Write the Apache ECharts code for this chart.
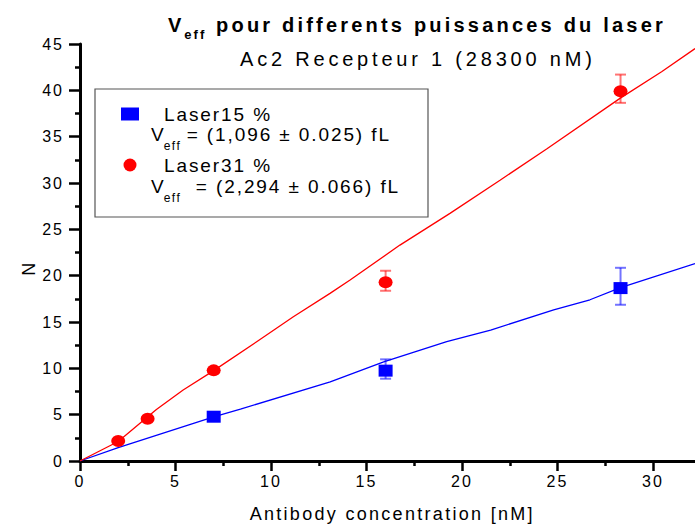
<!DOCTYPE html>
<html>
<head>
<meta charset="utf-8">
<script src="https://cdn.jsdelivr.net/npm/echarts@6/dist/echarts.min.js"></script>
<style>
  html, body { margin: 0; padding: 0; background: #fff; }
  #chart { width: 695px; height: 525px; }
</style>
</head>
<body>
<div id="chart"></div>
<script>
// ---- data ----
const seriesNames = ['Laser15 %', 'Laser31 %'];

const blueX = [7, 16, 28.3];
const blueY = [4.78, 9.75, 18.66];
const blueErrX = [16, 28.3];
const blueErrLow = [8.88, 16.86];
const blueErrHigh = [10.97, 20.85];

const redX = [2, 3.54, 7, 16, 28.3];
const redY = [2.16, 4.56, 9.78, 19.28, 39.9];
const redErrX = [16, 28.3];
const redErrLow = [18.37, 38.65];
const redErrHigh = [20.53, 41.7];

const blueFitX = [0, 2, 7, 8.4, 13.1, 15.9, 19.2, 21.5, 24.8, 26.7, 28.3, 32.2];
const blueFitY = [0, 1.45, 4.75, 5.6, 8.55, 10.7, 12.87, 14.13, 16.3, 17.4, 18.7, 21.3];

const redFitX = [0, 2, 4.0, 5.4, 7, 9.25, 11.17, 13.09, 14.14, 16.75, 19.37, 21.99, 24.43, 28.27, 30.45, 32.2];
const redFitY = [0, 2.1, 5.55, 7.66, 9.75, 12.87, 15.57, 18.09, 19.53, 23.3, 26.72, 30.3, 33.66, 39.13, 42.0, 44.5];

const xAxisTitle = 'Antibody concentration [nM]';
const yAxisTitle = 'N';
const legendFit1 = ['= (1,096 ± 0.025) fL'];
const legendFit2 = [' = (2,294 ± 0.066) fL'];

// ---- chart ----
const FONT = 'Liberation Sans';
const BLUE = '#0000ff';
const RED = '#ff0000';
const ellipse = 'path://M0,5A5,5,0,1,1,10,5A5,5,0,1,1,0,5Z';

function zip(a, b) { return a.map((v, i) => [v, b[i]]); }
function zip3(a, b, c) { return a.map((v, i) => [v, b[i], c[i]]); }

function errRender(color) {
  return function (params, api) {
    const x = api.value(0);
    const lo = api.coord([x, api.value(1)]);
    const hi = api.coord([x, api.value(2)]);
    const hw = 5.5;
    const st = { stroke: color, lineWidth: 2 };
    return {
      type: 'group',
      children: [
        { type: 'line', shape: { x1: lo[0], y1: lo[1], x2: hi[0], y2: hi[1] }, style: st },
        { type: 'line', shape: { x1: hi[0] - hw, y1: hi[1], x2: hi[0] + hw, y2: hi[1] }, style: st },
        { type: 'line', shape: { x1: lo[0] - hw, y1: lo[1], x2: lo[0] + hw, y2: lo[1] }, style: st }
      ]
    };
  };
}

function fitRich(subWidth) {
  return {
    v: { fontFamily: FONT, fontSize: 19, fill: '#000', lineHeight: 35 },
    s: { fontFamily: FONT, fontSize: 12, fill: '#000', lineHeight: 12, verticalAlign: 'bottom', width: subWidth },
    m: { fontFamily: FONT, fontSize: 19, fill: '#000', lineHeight: 35 }
  };
}

const chart = echarts.init(document.getElementById('chart'), null, { renderer: 'svg' });

const axisCommon = {
  type: 'value',
  axisLine: { show: true, onZero: false, lineStyle: { color: '#000', width: 3 } },
  axisTick: { show: true, inside: false, lineStyle: { color: '#000', width: 2.5 } },
  minorTick: { show: true, splitNumber: 2, length: 5, lineStyle: { color: '#000', width: 2.5 } },
  splitLine: { show: false },
  minorSplitLine: { show: false },
  axisLabel: { color: '#000', fontFamily: FONT, fontSize: 16, hideOverlap: false },
  nameMoveOverlap: false,
  nameTextStyle: { color: '#000', fontFamily: FONT, fontSize: 18 }
};

const option = {
  animation: false,
  backgroundColor: '#fff',
  textStyle: { fontFamily: FONT },
  title: [
    {
      text: '{v|V}{s|eff}{m| pour differents puissances du laser}',
      left: 168, top: 8, padding: 0,
      textStyle: {
        rich: {
          v: { fontFamily: FONT, fontSize: 20, fontWeight: 'bold', color: '#000', lineHeight: 33 },
          s: { fontFamily: FONT, fontSize: 13, fontWeight: 'bold', color: '#000', lineHeight: 13,
               verticalAlign: 'bottom', padding: [0, 0, 0, 3], width: 23 },
          m: { fontFamily: FONT, fontSize: 20, fontWeight: 'bold', color: '#000', lineHeight: 33 }
        }
      }
    },
    {
      text: 'Ac2 Recepteur 1 (28300 nM)',
      left: 240, top: 48.7, padding: 0,
      textStyle: { fontFamily: FONT, fontSize: 20, fontWeight: 'normal', color: '#000', lineHeight: 20 }
    }
  ],
  grid: { left: 80, top: 44, width: 668.5, height: 417, containLabel: false, outerBoundsMode: 'none' },
  xAxis: Object.assign({}, axisCommon, {
    min: 0, max: 35, interval: 5,
    name: xAxisTitle, nameLocation: 'middle', nameGap: 44,
    nameTextStyle: Object.assign({}, axisCommon.nameTextStyle, { padding: [0, 44, 0, 0] }),
    axisTick: Object.assign({}, axisCommon.axisTick, { length: 10 }),
    axisLabel: Object.assign({}, axisCommon.axisLabel, { margin: 12, showMaxLabel: false })
  }),
  yAxis: Object.assign({}, axisCommon, {
    min: 0, max: 45, interval: 5,
    name: yAxisTitle, nameLocation: 'middle', nameGap: 42, nameRotate: 90,
    nameTextStyle: Object.assign({}, axisCommon.nameTextStyle, { padding: [0, 31, 0, 0] }),
    axisTick: Object.assign({}, axisCommon.axisTick, { length: 11 }),
    axisLabel: Object.assign({}, axisCommon.axisLabel, { margin: 16 })
  }),
  legend: {
    orient: 'vertical', left: 121, top: 104.5, padding: 0,
    itemGap: 32, itemWidth: 18, itemHeight: 13, selectedMode: false,
    data: [{ name: seriesNames[0], icon: 'rect' }, { name: seriesNames[1], icon: ellipse }],
    textStyle: { fontFamily: FONT, fontSize: 19, color: '#000', padding: [0, 0, 0, 20] }
  },
  graphic: [
    { type: 'rect', z: 1, shape: { x: 95, y: 89, width: 333, height: 128 },
      style: { fill: 'none', stroke: '#555', lineWidth: 1.2 } },
    { type: 'text', z: 5, x: 151, y: 117,
      style: { text: '{v|V}{s|eff}{m|' + legendFit1[0] + '}', rich: fitRich(23) } },
    { type: 'text', z: 5, x: 151, y: 169.3,
      style: { text: '{v|V}{s|eff}{m|' + legendFit2[0] + '}', rich: fitRich(25) } }
  ],
  series: [
    { name: 'fit15', type: 'line', data: zip(blueFitX, blueFitY), showSymbol: false, symbol: 'none',
      lineStyle: { color: BLUE, width: 1.3 }, itemStyle: { color: BLUE }, z: 2, silent: true },
    { name: 'fit31', type: 'line', data: zip(redFitX, redFitY), showSymbol: false, symbol: 'none',
      lineStyle: { color: RED, width: 1.3 }, itemStyle: { color: RED }, z: 2, silent: true },
    { name: 'err15', type: 'custom', data: zip3(blueErrX, blueErrLow, blueErrHigh),
      encode: { x: 0, y: [1, 2] }, renderItem: errRender('rgba(0,0,255,0.55)'), z: 3, silent: true },
    { name: 'err31', type: 'custom', data: zip3(redErrX, redErrLow, redErrHigh),
      encode: { x: 0, y: [1, 2] }, renderItem: errRender('rgba(255,0,0,0.55)'), z: 3, silent: true },
    { name: seriesNames[0], type: 'scatter', data: zip(blueX, blueY), symbol: 'rect', symbolSize: [14, 12],
      itemStyle: { color: BLUE, opacity: 1 }, z: 4 },
    { name: seriesNames[1], type: 'scatter', data: zip(redX, redY), symbol: ellipse, symbolSize: [14, 12],
      itemStyle: { color: RED, opacity: 1 }, z: 4 }
  ]
};

chart.setOption(option);

// letter spacing emulating the wide-tracked text of the original export
function applySpacing() {
  document.querySelectorAll('#chart svg text').forEach(function (t) {
    const cs = getComputedStyle(t);
    const fs = Math.round(parseFloat(cs.fontSize));
    const bold = parseInt(cs.fontWeight, 10) >= 600;
    let s = 2;
    if (bold && fs === 20) s = 3.2;
    else if (bold && fs === 13) s = 2;
    else if (fs === 20) s = 3.8;
    else if (fs === 19) s = 1.9;
    else if (fs === 12) s = 1.5;
    else if (fs === 18) s = 2.3;
    else if (fs === 16) s = 2;
    t.style.letterSpacing = s + 'px';
  });
}
applySpacing();
chart.on('finished', applySpacing);
</script>
</body>
</html>
